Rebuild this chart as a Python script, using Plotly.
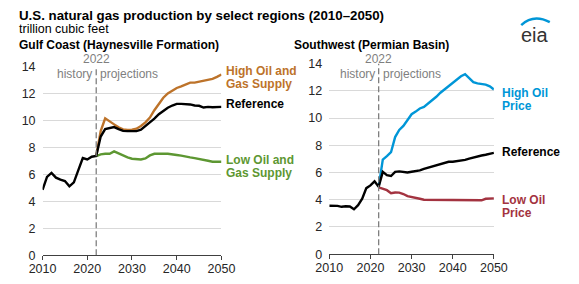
import plotly.graph_objects as go

# ---------------- data ----------------
hist_years = list(range(2010, 2023))
proj_years = list(range(2022, 2051))
proj_start = 2022

gulf_hist = [4.85, 5.8, 6.1, 5.75, 5.6, 5.5, 5.1, 5.4, 6.3, 7.2, 7.1, 7.3, 7.35]
gulf_ref = [7.35, 8.8, 9.35, 9.42, 9.5, 9.35, 9.22, 9.2, 9.2, 9.2, 9.3, 9.55, 9.83, 10.12,
            10.45, 10.72, 10.93, 11.1, 11.22, 11.22, 11.22, 11.18, 11.1, 11.08, 10.95, 11.0,
            10.97, 10.97, 11.0]
gulf_high = [7.35, 9.2, 10.15, 9.95, 9.7, 9.48, 9.33, 9.28, 9.3, 9.38, 9.58, 9.85, 10.2,
             10.75, 11.22, 11.68, 12.0, 12.22, 12.4, 12.52, 12.68, 12.8, 12.8, 12.88, 12.95,
             13.0, 13.08, 13.22, 13.4]
gulf_low = [7.35, 7.48, 7.52, 7.52, 7.7, 7.55, 7.36, 7.25, 7.15, 7.12, 7.1, 7.17, 7.4,
            7.52, 7.55, 7.53, 7.52, 7.5, 7.43, 7.38, 7.3, 7.25, 7.2, 7.15, 7.08, 7.0,
            6.93, 6.92, 6.93]

sw_hist = [3.56, 3.58, 3.55, 3.48, 3.52, 3.5, 3.3, 3.6, 4.07, 4.85, 5.05, 5.35, 4.95]
sw_ref = [4.95, 6.05, 5.8, 5.74, 6.05, 6.08, 6.05, 6.0, 6.05, 6.08, 6.16, 6.27, 6.35,
          6.47, 6.52, 6.63, 6.67, 6.79, 6.79, 6.82, 6.86, 6.93, 7.02, 7.11, 7.2, 7.25,
          7.3, 7.35, 7.44]
sw_high = [4.95, 6.95, 7.2, 7.49, 8.6, 9.12, 9.42, 9.89, 10.28, 10.47, 10.7, 10.81, 11.05,
           11.28, 11.56, 11.86, 12.1, 12.37, 12.63, 12.86, 13.07, 13.22, 12.9, 12.63,
           12.54, 12.49, 12.45, 12.33, 12.1]
sw_low = [4.9, 4.82, 4.7, 4.48, 4.53, 4.52, 4.42, 4.26, 4.18, 4.13, 4.07, 4.0, 4.0,
          4.0, 4.0, 4.0, 4.0, 4.0, 4.0, 4.0, 4.0, 3.95, 4.0, 3.96, 3.95, 3.96, 4.07,
          4.07, 4.1]

x_ticks = [2010, 2020, 2030, 2040, 2050]
y_ticks = [0, 2, 4, 6, 8, 10, 12, 14]

# ---------------- style ----------------
W, H = 579, 284
FONT = "Liberation Sans, Arial, sans-serif"
C_ORANGE = "#BD732A"
C_GREEN = "#5D9732"
C_BLUE = "#0096D7"
C_RED = "#A33340"
C_BLACK = "#000000"
C_GRAY = "#7f7f7f"
C_TEXT = "#262626"


def px(x):
    return x / W


def py(y):
    return 1 - y / H


fig = go.Figure()


def add_line(x, y, color, xa, ya):
    fig.add_trace(go.Scatter(x=x, y=y, mode="lines", line=dict(color=color, width=2.4),
                             xaxis=xa, yaxis=ya, showlegend=False, hoverinfo="skip"))


# left panel
add_line(proj_years, gulf_high, C_ORANGE, "x", "y")
add_line(proj_years, gulf_low, C_GREEN, "x", "y")
add_line(hist_years + proj_years[1:], gulf_hist + gulf_ref[1:], C_BLACK, "x", "y")
# right panel
add_line(proj_years, sw_high, C_BLUE, "x2", "y2")
add_line(proj_years, sw_low, C_RED, "x2", "y2")
add_line(hist_years + proj_years[1:], sw_hist + sw_ref[1:], C_BLACK, "x2", "y2")

axis_x = dict(range=[2010, 2050], tickvals=x_ticks, showgrid=False, zeroline=False,
              showline=True, linecolor="#404040", linewidth=1, ticks="outside",
              ticklen=4, tickcolor="#404040", tickfont=dict(family=FONT, size=12.5, color=C_TEXT),
              ticklabelstandoff=-2, fixedrange=True)
axis_y = dict(range=[0, 14], tickvals=y_ticks, showgrid=True, gridcolor="#d9d9d9",
              gridwidth=1, zeroline=False, showline=False, ticks="",
              tickfont=dict(family=FONT, size=12.5, color=C_TEXT), ticklabelstandoff=6,
              fixedrange=True)

fig.update_layout(
    width=W, height=H, margin=dict(l=0, r=0, t=0, b=0),
    paper_bgcolor="white", plot_bgcolor="white",
    xaxis=dict(axis_x, domain=[px(30), px(218)], anchor="y"),
    yaxis=dict(axis_y, domain=[py(261), py(62.5)], anchor="x"),
    xaxis2=dict(axis_x, domain=[px(331.3), px(504.3)], anchor="y2"),
    yaxis2=dict(axis_y, domain=[py(260), py(59.5)], anchor="x2"),
)

# dashed projection lines
for xr, yr in (("x", "y"), ("x2", "y2")):
    fig.add_shape(type="line", xref=xr, yref=yr, x0=proj_start, x1=proj_start, y0=0, y1=14,
                  line=dict(color=C_GRAY, width=1.3, dash="6px,3px"), layer="above")
    fig.add_annotation(xref=xr, yref="paper", x=proj_start, y=py(55), text="2022",
                       showarrow=False, xanchor="center", yanchor="middle", borderpad=0,
                       font=dict(family=FONT, size=12, color=C_GRAY))
    fig.add_annotation(xref=xr, yref="paper", x=proj_start, y=py(70), text="history",
                       showarrow=False, xanchor="right", yanchor="middle", xshift=-3,
                       borderpad=0, font=dict(family=FONT, size=12, color=C_GRAY))
    fig.add_annotation(xref=xr, yref="paper", x=proj_start, y=py(70), text="projections",
                       showarrow=False, xanchor="left", yanchor="middle", xshift=3,
                       borderpad=0, font=dict(family=FONT, size=12, color=C_GRAY))


def text(x, y, s, size=12, color=C_BLACK, bold=False):
    fig.add_annotation(xref="paper", yref="paper", x=px(x), y=py(y),
                       text=f"<b>{s}</b>" if bold else s, showarrow=False,
                       xanchor="left", yanchor="middle", borderpad=0,
                       font=dict(family=FONT, size=size, color=color))


text(4, 8.5, "U.S. natural gas production by select regions (2010–2050)", 13.3, C_BLACK, True)
text(4, 23, "trillion cubic feet", 12.5, C_BLACK)
text(4, 40, "Gulf Coast (Haynesville Formation)", 12, C_BLACK, True)
text(293, 40, "Southwest (Permian Basin)", 12, C_BLACK, True)

# series labels left
text(222, 67, "High Oil and", 12, C_ORANGE, True)
text(222, 81, "Gas Supply", 12, C_ORANGE, True)
text(222, 102.5, "Reference", 12, C_BLACK, True)
text(222, 161, "Low Oil and", 12, C_GREEN, True)
text(222, 175, "Gas Supply", 12, C_GREEN, True)
# series labels right
text(512, 90, "High Oil", 12, C_BLUE, True)
text(512, 104, "Price", 12, C_BLUE, True)
text(512, 152, "Reference", 12, C_BLACK, True)
text(512, 203, "Low Oil", 12, C_RED, True)
text(512, 217, "Price", 12, C_RED, True)

# eia logo
fig.add_annotation(xref="paper", yref="paper", x=px(547), y=py(29), text="eia",
                   showarrow=False, xanchor="center", yanchor="middle", borderpad=0,
                   font=dict(family=FONT, size=20, color="#333333"))
fig.add_shape(type="path", xref="paper", yref="paper",
              path=f"M {px(533)},{py(19)} Q {px(546)},{py(7)} {px(563)},{py(16)}",
              line=dict(color=C_BLUE, width=2.5))

fig.write_html("out.html", config={"displayModeBar": False},
               post_script="document.body.style.margin='0';document.body.style.overflow='hidden';")
